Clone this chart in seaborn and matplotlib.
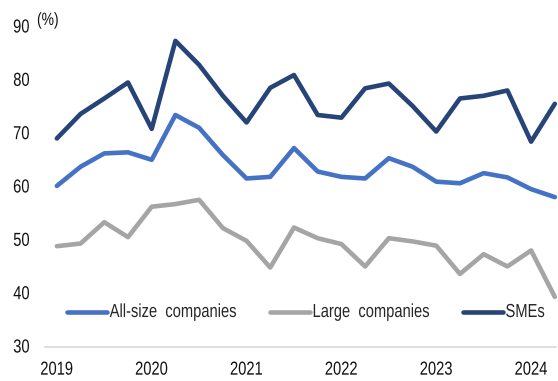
import matplotlib
matplotlib.use("Agg")
import matplotlib.pyplot as plt
from matplotlib.patheffects import AbstractPathEffect
from matplotlib.transforms import Affine2D
import seaborn as sns
import pandas as pd

# Quarterly readings, 2019 Q1 .. 2024 Q2
quarters = [f"{y}Q{q}" for y in range(2019, 2025) for q in range(1, 5)][:22]
all_size = [60.2, 63.8, 66.3, 66.5, 65.1, 73.5, 71.1, 66.0, 61.6, 61.9, 67.3,
            62.9, 61.9, 61.6, 65.4, 63.8, 61.0, 60.7, 62.6, 61.8, 59.6, 58.1]
large = [48.9, 49.4, 53.4, 50.6, 56.3, 56.8, 57.6, 52.3, 49.9, 44.9, 52.4,
         50.4, 49.3, 45.1, 50.4, 49.8, 49.0, 43.7, 47.4, 45.1, 48.1, 39.4]
smes = [69.1, 73.7, 76.6, 79.6, 70.9, 87.4, 82.9, 77.1, 72.1, 78.6, 81.0,
        73.5, 73.0, 78.5, 79.4, 75.2, 70.4, 76.6, 77.1, 78.1, 68.5, 75.6]
series_names = ["All-size  companies", "Large  companies", "SMEs"]
year_labels = ["2019", "2020", "2021", "2022", "2023", "2024"]
y_ticks = [30, 40, 50, 60, 70, 80, 90]

colors = ["#4472C4", "#A5A5A5", "#264478"]
TEXT_SIZE = 10.6


class TallText(AbstractPathEffect):
    """Draw glyphs stretched vertically about their baseline (condensed look)."""

    def __init__(self, sy):
        super().__init__()
        self.sy = sy

    def draw_path(self, renderer, gc, tpath, affine, rgbFace=None):
        renderer.draw_path(gc, tpath, Affine2D().scale(1.0, self.sy) + affine, rgbFace)


tall = [TallText(1.28)]

sns.set_style("white")
plt.rcParams["font.family"] = ["Liberation Sans", "DejaVu Sans"]

rows = []
for name, vals in zip(series_names, [all_size, large, smes]):
    for i, v in enumerate(vals):
        rows.append({"idx": i, "quarter": quarters[i], "value": v, "series": name})
df = pd.DataFrame(rows)

fig = plt.figure(figsize=(5.58, 3.81), dpi=100)
ax = fig.add_axes([45 / 558, 34 / 381, (556 - 45) / 558, (347 - 27) / 381])

sns.lineplot(data=df, x="idx", y="value", hue="series", hue_order=series_names,
             palette=colors, linewidth=3.3, ax=ax, legend=True, clip_on=False)

ax.set_xlim(-0.5, 21.05)
ax.set_ylim(30, 90)
ax.set_yticks(y_ticks)
ax.set_yticklabels([str(t) for t in y_ticks])
ax.set_xticks(list(range(0, 22, 4)))
ax.set_xticklabels(year_labels)
ax.set_xlabel("")
ax.set_ylabel("")
ax.tick_params(axis="both", length=0, labelsize=TEXT_SIZE, colors="#111111")
ax.tick_params(axis="y", pad=11)
ax.tick_params(axis="x", pad=12)
for lab in ax.get_xticklabels() + ax.get_yticklabels():
    lab.set_path_effects(tall)

for side in ["left", "right", "top"]:
    ax.spines[side].set_visible(False)
ax.spines["bottom"].set_color("#D9D9D9")
ax.spines["bottom"].set_linewidth(1.2)

handles, labels = ax.get_legend_handles_labels()
leg = ax.legend(handles, labels, ncol=3, frameon=False, fontsize=TEXT_SIZE,
                loc="center left", bbox_to_anchor=(67 / 558, 1 - 313 / 381),
                bbox_transform=fig.transFigure, borderpad=0, borderaxespad=0,
                handlelength=2.7, handletextpad=0.2, columnspacing=2.2)
for t in leg.get_texts():
    t.set_path_effects(tall)

pct = fig.text(37 / 558, 1 - 21 / 381, "(%)", fontsize=10, ha="left",
               va="center", color="#111111")
pct.set_path_effects(tall)

fig.savefig("out.png", dpi=100)
